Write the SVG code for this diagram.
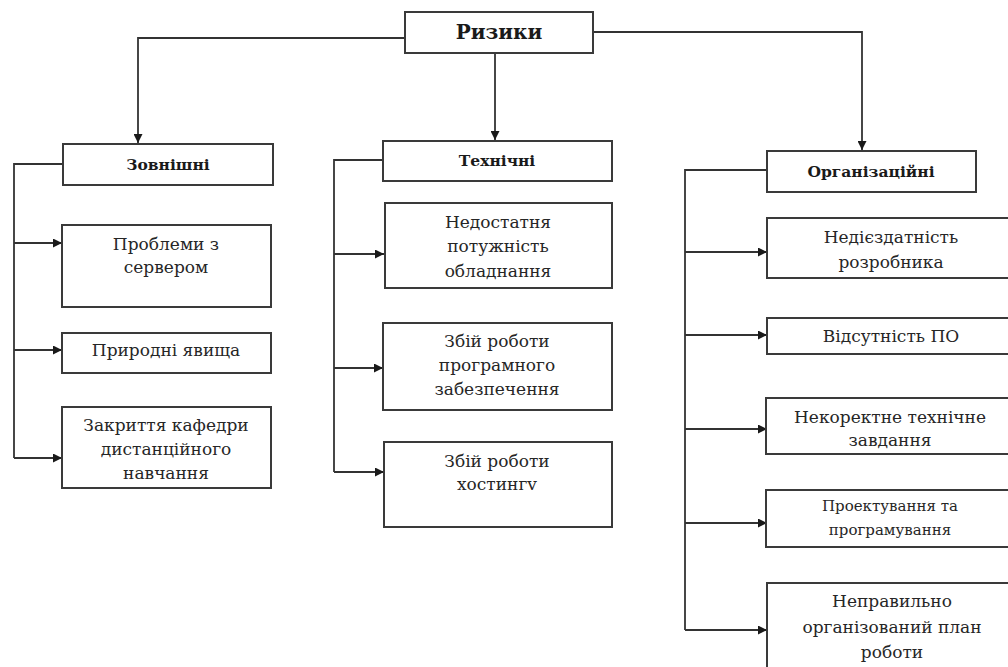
<svg xmlns="http://www.w3.org/2000/svg" width="1008" height="667" viewBox="0 0 1008 667">
  <style>
    .box { fill: #ffffff; stroke: #3a3a3a; stroke-width: 2; }
    .link { fill: none; stroke: #333333; stroke-width: 1.8; }
    .t { font-family: "DejaVu Serif", "Liberation Serif", serif; font-size: 17px; fill: #262626; text-anchor: middle; }
    .ts { font-size: 15px; }
    .h { font-family: "DejaVu Serif", "Liberation Serif", serif; font-weight: bold; font-size: 15.5px; fill: #1a1a1a; text-anchor: middle; }
    .root { font-size: 20px; }
  </style>
  <defs>
    <marker id="arrow" viewBox="0 0 10 10" refX="10" refY="5" markerWidth="10" markerHeight="9" markerUnits="userSpaceOnUse" orient="auto">
      <path d="M0,0 L10,5 L0,10 Z" fill="#1a1a1a"/>
    </marker>
  </defs>

  <rect width="1008" height="667" fill="#ffffff"/>

  <!-- connectors -->
  <g id="connectors">
    <!-- root to categories -->
    <path class="link" d="M405,38 H138 V143" marker-end="url(#arrow)"/>
    <path class="link" d="M495,53 V140" marker-end="url(#arrow)"/>
    <path class="link" d="M593,32 H862 V150" marker-end="url(#arrow)"/>

    <!-- external -->
    <path class="link" d="M63,164 H14 V458"/>
    <path class="link" d="M14,243 H62" marker-end="url(#arrow)"/>
    <path class="link" d="M14,350 H62" marker-end="url(#arrow)"/>
    <path class="link" d="M14,458 H62" marker-end="url(#arrow)"/>

    <!-- technical -->
    <path class="link" d="M383,160 H334 V472"/>
    <path class="link" d="M334,254 H384" marker-end="url(#arrow)"/>
    <path class="link" d="M334,368 H383" marker-end="url(#arrow)"/>
    <path class="link" d="M334,472 H384" marker-end="url(#arrow)"/>

    <!-- organisational -->
    <path class="link" d="M767,170 H685 V630"/>
    <path class="link" d="M685,252 H767" marker-end="url(#arrow)"/>
    <path class="link" d="M685,335 H767" marker-end="url(#arrow)"/>
    <path class="link" d="M685,429 H767" marker-end="url(#arrow)"/>
    <path class="link" d="M685,523 H767" marker-end="url(#arrow)"/>
    <path class="link" d="M685,630 H767" marker-end="url(#arrow)"/>
  </g>

  <!-- root -->
  <g id="root">
    <rect class="box" x="405" y="12" width="188" height="41"/>
    <text class="h root" x="499" y="39">Ризики</text>
  </g>

  <!-- categories -->
  <g id="external">
    <rect class="box" x="63" y="144" width="210" height="41"/>
    <text class="h" x="168" y="170">Зовнішні</text>
  </g>
  <g id="technical">
    <rect class="box" x="383" y="141" width="229" height="40"/>
    <text class="h" x="497" y="166">Технічні</text>
  </g>
  <g id="organisational">
    <rect class="box" x="767" y="151" width="209" height="41"/>
    <text class="h" x="871" y="177">Організаційні</text>
  </g>

  <!-- external risks -->
  <g id="server">
    <rect class="box" x="62" y="225" width="209" height="82"/>
    <text class="t" x="166" y="250">Проблеми з</text>
    <text class="t" x="166" y="273">сервером</text>
  </g>
  <g id="nature">
    <rect class="box" x="62" y="333" width="209" height="40"/>
    <text class="t" x="166" y="356">Природні явища</text>
  </g>
  <g id="department">
    <rect class="box" x="62" y="407" width="209" height="81"/>
    <text class="t" x="166" y="431">Закриття кафедри</text>
    <text class="t" x="166" y="455">дистанційного</text>
    <text class="t" x="166" y="479">навчання</text>
  </g>

  <!-- technical risks -->
  <g id="hardware">
    <rect class="box" x="385" y="203" width="227" height="85"/>
    <text class="t" x="498" y="228">Недостатня</text>
    <text class="t" x="498" y="252">потужність</text>
    <text class="t" x="498" y="277">обладнання</text>
  </g>
  <g id="software">
    <rect class="box" x="383" y="323" width="229" height="87"/>
    <text class="t" x="497" y="347">Збій роботи</text>
    <text class="t" x="497" y="371">програмного</text>
    <text class="t" x="497" y="395">забезпечення</text>
  </g>
  <g id="hosting">
    <rect class="box" x="384" y="442" width="228" height="85"/>
    <text class="t" x="497" y="467">Збій роботи</text>
    <text class="t" x="497" y="490">хостингv</text>
  </g>

  <!-- organisational risks -->
  <g id="developer">
    <rect class="box" x="767" y="218" width="248" height="60"/>
    <text class="t" x="891" y="243">Недієздатність</text>
    <text class="t" x="891" y="268">розробника</text>
  </g>
  <g id="no-software">
    <rect class="box" x="767" y="318" width="248" height="36"/>
    <text class="t" x="891" y="342">Відсутність ПО</text>
  </g>
  <g id="spec">
    <rect class="box" x="766" y="398" width="249" height="56"/>
    <text class="t" x="890" y="423">Некоректне технічне</text>
    <text class="t" x="890" y="446">завдання</text>
  </g>
  <g id="design">
    <rect class="box" x="766" y="490" width="249" height="57"/>
    <text class="t ts" x="890" y="511">Проектування та</text>
    <text class="t ts" x="890" y="535">програмування</text>
  </g>
  <g id="plan">
    <rect class="box" x="767" y="583" width="248" height="100"/>
    <text class="t" x="892" y="607">Неправильно</text>
    <text class="t" x="892" y="633">організований план</text>
    <text class="t" x="892" y="658">роботи</text>
  </g>
</svg>
